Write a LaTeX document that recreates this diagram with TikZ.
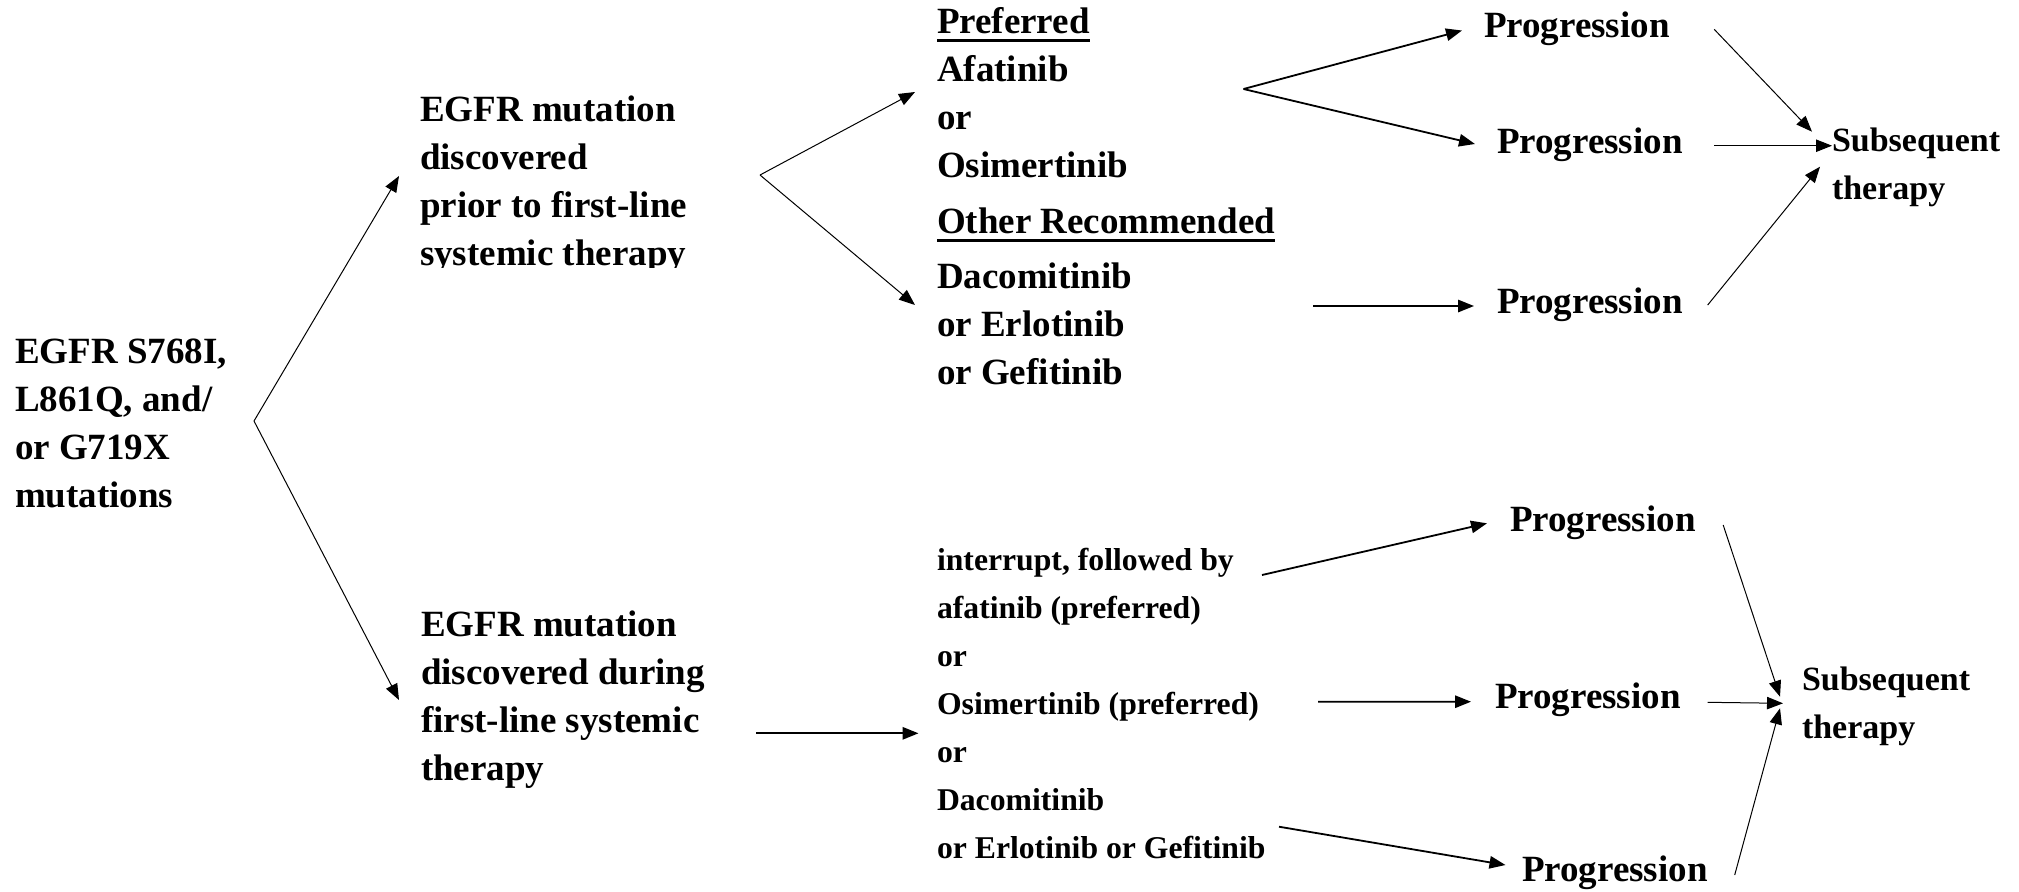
\documentclass[tikz,border=0pt]{standalone}
\usepackage{fontspec}
\setmainfont{Liberation Serif}
\usetikzlibrary{arrows.meta,calc}
% fixed-height first line so that north west sits a known distance above the first baseline
\newcommand\firstline{\rule{0pt}{14pt}}
% heavy underline used for the group headings
\newcommand\ulbar[1]{\setbox0=\hbox{#1}\rlap{\rule[-4.6pt]{\wd0}{1.5pt}}\box0}

\begin{document}
\begin{tikzpicture}[x=0.5pt,y=-0.5pt,
  >={Triangle[length=8pt,width=6.2pt]},
  block/.style={inner sep=0pt,outer sep=0pt,align=left,anchor=north west,
    font=\fontsize{18.5}{24}\selectfont\bfseries},
  smallblock/.style={block,font=\fontsize{15.85}{24}\selectfont\bfseries},
  subblock/.style={block,font=\fontsize{17}{23.8}\selectfont\bfseries},
  prog/.style={inner sep=0pt,outer sep=0pt,anchor=base west,
    font=\fontsize{18.5}{24}\selectfont\bfseries},
  fineArrow/.style={->,line width=0.5pt},
  heavyArrow/.style={->,line width=0.9pt},
]
\useasboundingbox (0,0) rectangle (2019,891);
\fill[white] (0,0) rectangle (2019,891);

% ---- text blocks ----
\node[block] (start) at (15,335.3) {\firstline EGFR S768I,\\L861Q, and/\\or G719X\\mutations};
\begin{scope}
  \clip (400,60) rectangle (900,267);
  \node[block] (prior) at (420,93.7) {\firstline EGFR mutation\\discovered\\prior to first-line\\systemic therapy};
\end{scope}
\node[block] (during) at (421,608.7) {\firstline EGFR mutation\\discovered during\\first-line systemic\\therapy};

\node[block] (pref) at (937,5) {\firstline\ulbar{Preferred}\\Afatinib\\or\\Osimertinib};
\node[block] (other) at (937,205) {\firstline\ulbar{Other Recommended}\\[3.5pt]Dacomitinib\\or Erlotinib\\or Gefitinib};
\node[smallblock] (switch) at (937,542.7) {\firstline interrupt, followed by\\afatinib (preferred)\\or\\Osimertinib (preferred)\\or\\Dacomitinib\\or Erlotinib or Gefitinib};

\node[prog] (p1) at (1484,37.3) {Progression};
\node[prog] (p2) at (1497,153.3) {Progression};
\node[prog] (p3) at (1497,313.3) {Progression};
\node[subblock] (sub1) at (1832,123.7) {\firstline Subsequent\\therapy};

\node[prog] (p4) at (1510,531.7) {Progression};
\node[prog] (p5) at (1495,708) {Progression};
\node[prog] (p6) at (1522,881.7) {Progression};
\node[subblock] (sub2) at (1802,662.7) {\firstline Subsequent\\therapy};

% ---- branch points ----
\coordinate (fork0) at ($(start.north west)+(239,85.7)$);
\coordinate (fork1) at ($(prior.north west)+(340,81.3)$);
\coordinate (fork2) at ($(pref.north west)+(306.5,84)$);

% ---- connectors ----
\draw[fineArrow] (fork0) -- ($(prior.north west)+(-21,82.3)$);
\draw[fineArrow] (fork0) -- ($(during.north west)+(-22,91.3)$);

\draw[fineArrow] (fork1) -- ($(pref.north west)+(-22,87)$);
\draw[fineArrow] (fork1) -- ($(other.north west)+(-22,100)$);

\draw[heavyArrow] (fork2) -- ($(p1.base west)+(-22,-6.8)$);
\draw[heavyArrow] (fork2) -- ($(p2.base west)+(-22,-9.3)$);
\draw[heavyArrow] ($(other.north west)+(376,101)$) -- ($(p3.base west)+(-23,-7.3)$);

\draw[fineArrow] ($(p1.base east)+(44.5,-8)$) -- ($(sub1.north west)+(-20,8)$);
\draw[fineArrow] ($(p2.base east)+(31.5,-7.6)$) -- ($(sub1.north west)+(0,22)$);
\draw[fineArrow] ($(p3.base east)+(25,-8.3)$) -- ($(sub1.north west)+(-12,43)$);

\draw[heavyArrow] ($(during.north west)+(335,124.6)$) -- ($(switch.north west)+(-18.5,190.6)$);

\draw[heavyArrow] ($(switch.north west)+(325,32.3)$) -- ($(p4.base west)+(-23,-8.4)$);
\draw[heavyArrow] ($(switch.north west)+(381,159)$) -- ($(p5.base west)+(-24,-6.3)$);
\draw[heavyArrow] ($(switch.north west)+(342,284)$) -- ($(p6.base west)+(-16.5,-16.7)$);

\draw[fineArrow] ($(p4.base east)+(27.5,-6.7)$) -- ($(sub2.north west)+(-22,34)$);
\draw[fineArrow] ($(p5.base east)+(27,-5.7)$) -- ($(sub2.north west)+(-19,40.6)$);
\draw[fineArrow] ($(p6.base east)+(27,-6.7)$) -- ($(sub2.north west)+(-22,45.6)$);
\end{tikzpicture}
\end{document}
